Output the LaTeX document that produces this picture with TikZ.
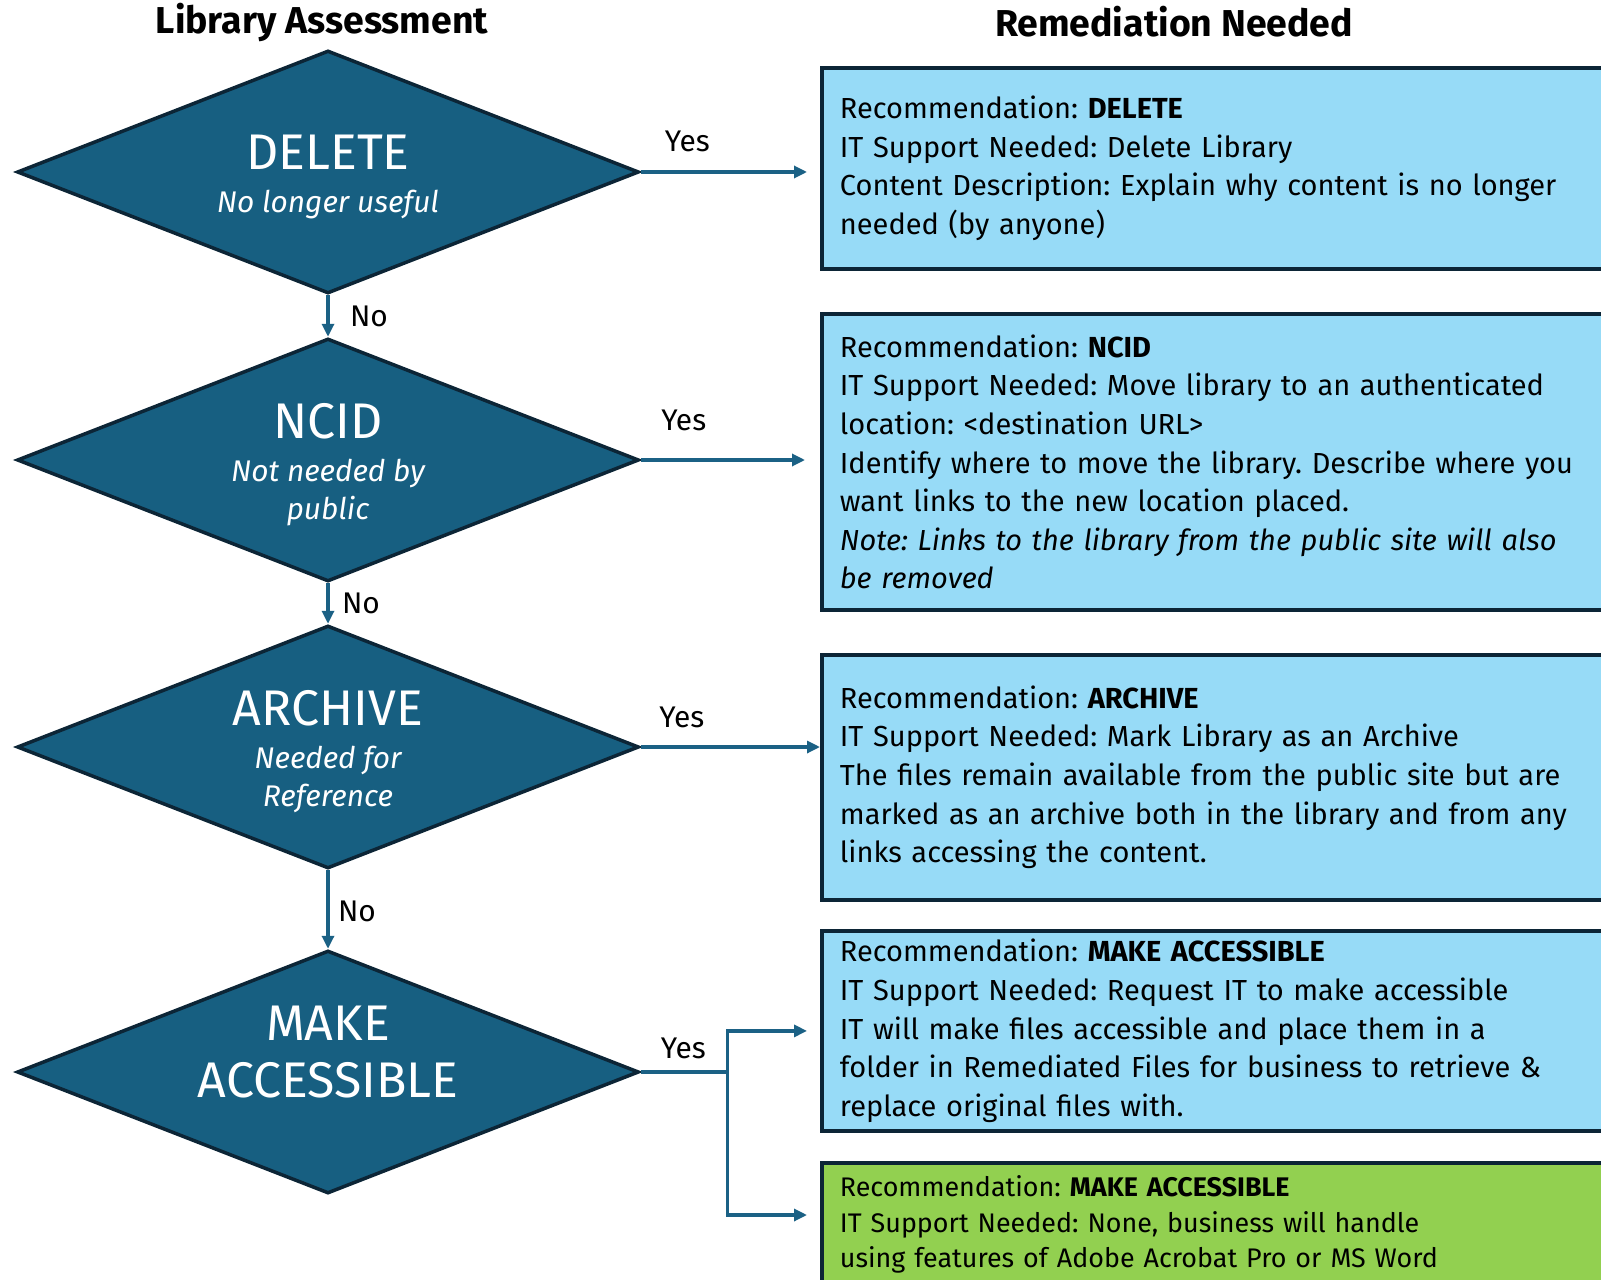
\documentclass[tikz,border=0pt]{standalone}
\usepackage{fontspec}
\setmainfont{Fira Sans}
\frenchspacing
\usetikzlibrary{shapes.geometric,arrows.meta}
\definecolor{diafill}{HTML}{175F81}
\definecolor{darkedge}{HTML}{0C2536}
\definecolor{boxblue}{HTML}{97DBF7}
\definecolor{boxgreen}{HTML}{92D050}
\definecolor{flowline}{HTML}{1B6185}
\newcommand{\subf}{\fontsize{17}{21.5}\selectfont\itshape}
\begin{document}
\begin{tikzpicture}[x=0.02cm, y=-0.02cm,
% common options for the decisions:
decision/.style = {diamond, draw=darkedge, fill=diafill, line width=2pt,
            aspect=2.56, minimum width=12.44cm, minimum height=4.86cm, inner sep=0},
dtext/.style = {text=white, align=center, inner sep=0,
            font=\fontsize{28.5}{32}\selectfont},
% common options for the remedies:
remedy/.style = {rectangle, draw=darkedge, fill=boxblue, line width=2.2pt,
            align=left, anchor=north west, inner xsep=0.36cm, inner ysep=0,
            text width=14.9cm, font=\fontsize{16.5}{22}\selectfont},
% arrows and their labels:
flow/.style = {->, >={Triangle[length=0.26cm, width=0.24cm]}, draw=flowline, line width=1.8pt},
lbl/.style = {inner sep=0, font=\fontsize{17}{20}\selectfont}]
\useasboundingbox (0,0) rectangle (1601,1280);
\node[font=\fontsize{21.3}{24}\selectfont\bfseries] (A0) at (322,22) {Library Assessment};
\node[font=\fontsize{21.3}{24}\selectfont\bfseries] (B0) at (1174,22) {Remediation Needed};
\node[decision] (A1) at (328,172) {};
\node[decision] (A2) at (328,460) {};
\node[decision] (A3) at (328,747) {};
\node[decision] (A4) at (328,1072) {};
\node[dtext] (T1) at ([yshift=-0.1cm]A1) {DELETE\\[-8pt]\subf No longer useful};
\node[dtext] (T2) at ([yshift=-0.1cm]A2) {NCID\\[-8pt]\subf Not needed by\\[-10pt]\subf public};
\node[dtext] (T3) at ([yshift=-0.1cm]A3) {ARCHIVE\\[-8pt]\subf Needed for\\[-10pt]\subf Reference};
\node[dtext] (T4) at ([yshift=0.4cm]A4) {MAKE\\ACCESSIBLE};
\node[remedy, minimum height=4.02cm] (B1) at (820,66) {Recommendation: \textbf{DELETE}\\
IT Support Needed: Delete Library\\
Content Description: Explain why content is no longer\\
needed (by anyone)};
\node[remedy, minimum height=5.92cm] (B2) at (820,312) {Recommendation: \textbf{NCID}\\
IT Support Needed: Move library to an authenticated\\
location: <destination URL>\\
Identify where to move the library. Describe where you\\
want links to the new location placed.\\
\textit{Note: Links to the library from the public site will also}\\
\textit{be removed}};
\node[remedy, minimum height=4.9cm] (B3) at (820,653) {Recommendation: \textbf{ARCHIVE}\\
IT Support Needed: Mark Library as an Archive\\
The files remain available from the public site but are\\
marked as an archive both in the library and from any\\
links accessing the content.};
\node[remedy, minimum height=4.0cm] (B4) at (820,929) {Recommendation: \textbf{MAKE ACCESSIBLE}\\
IT Support Needed: Request IT to make accessible\\
IT will make files accessible and place them in a\\
folder in Remediated Files for business to retrieve \&\\
replace original files with.};
\node[remedy, fill=boxgreen, minimum height=2.46cm, font=\fontsize{15.3}{20}\selectfont] (B5) at (820,1161) {Recommendation: \textbf{MAKE ACCESSIBLE}\\
IT Support Needed: None, business will handle\\
using features of Adobe Acrobat Pro or MS Word};
\coordinate (fork) at ([xshift=1.74cm]A4.east);
\coordinate (C5) at ([xshift=-0.26cm, yshift=-1.08cm]B5.north west);
\draw[flow, shorten >=0.26cm] (A1.east) -- node[lbl, pos=0.26, yshift=0.62cm] (Y1) {Yes} (A1.east -| B1.west);
\draw[flow, shorten >=0.3cm] (A2.east) -- node[lbl, pos=0.24, yshift=0.8cm] (Y2) {Yes} (A2.east -| B2.west);
\draw[flow] (A3.east) -- node[lbl, pos=0.23, yshift=0.6cm] (Y3) {Yes} (A3.east -| B3.west);
\draw[flow, shorten >=0.26cm] (A4.east) -- node[lbl, pos=0.49, yshift=0.47cm] (Y4) {Yes} (fork) |- (B4.west);
\draw[flow] (fork) |- (C5);
\draw[flow] (A1.south) -- node[lbl, pos=0.52, xshift=0.82cm] (N1) {No} (A2.north);
\draw[flow] (A2.south) -- node[lbl, pos=0.49, xshift=0.66cm] (N2) {No} (A3.north);
\draw[flow] (A3.south) -- node[lbl, pos=0.53, xshift=0.58cm] (N3) {No} (A4.north);
\end{tikzpicture}
\end{document}
